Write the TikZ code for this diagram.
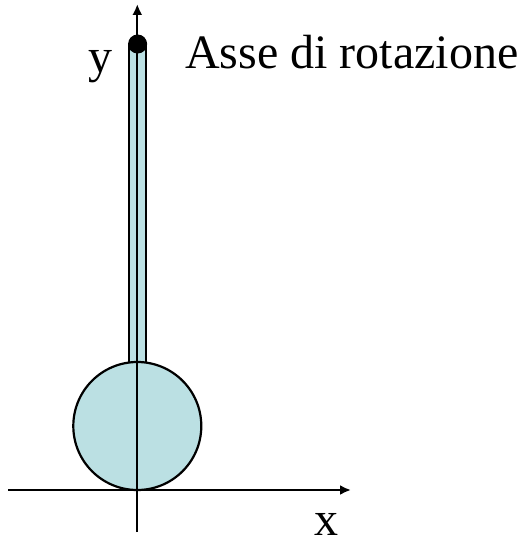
\documentclass[tikz,border=0pt]{standalone}
\usepackage{fontspec}
\setmainfont{Liberation Serif}
\usetikzlibrary{arrows.meta}
\definecolor{bodyfill}{RGB}{187,224,227}
\begin{document}
\begin{tikzpicture}[x=1pt,y=-1pt,
  axisline/.style={line width=2.2pt,-{Latex[length=11pt,width=10pt]}},
  bodypart/.style={draw=black,line width=2.2pt,fill=bodyfill},
  lbl/.style={inner sep=0pt,font=\fontsize{48}{48}\selectfont}]
\useasboundingbox (0,0) rectangle (524,545);
% rod and ball
\node[bodypart,rectangle,minimum width=17pt,minimum height=320pt,inner sep=0pt,anchor=north] (rod) at (137.5,43) {};
\node[bodypart,circle,minimum size=128pt,inner sep=0pt] (ball) at (137.3,426) {};
% axes
\coordinate (ybot) at (137.3,532);
\coordinate (ytop) at (137.3,4);
\coordinate (xleft) at (8,490);
\coordinate (xright) at (351,490);
\draw[axisline] (ybot) -- (ytop);
\draw[axisline] (xleft) -- (xright);
% pivot dot
\node[circle,fill=black,minimum size=19pt,inner sep=0pt] (pivot) at (137.6,44) {};
% labels
\node[lbl,anchor=base west] (ylab) at (88,73) {y};
\node[lbl,anchor=base west] (asse) at (185,69) {Asse di rotazione};
\node[lbl,anchor=base west] (xlab) at (314,535) {x};
\end{tikzpicture}
\end{document}
